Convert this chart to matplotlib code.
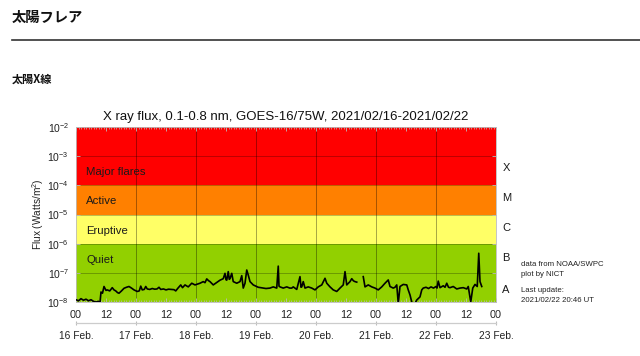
import numpy as np
import matplotlib
matplotlib.use('Agg')
import matplotlib.pyplot as plt
from matplotlib.ticker import FixedLocator, MultipleLocator, LogLocator, NullFormatter
from matplotlib.lines import Line2D

plt.rcParams['font.family'] = ['Liberation Sans', 'DejaVu Sans']
plt.rcParams['mathtext.fontset'] = 'custom'
plt.rcParams['mathtext.rm'] = 'Liberation Sans'
plt.rcParams['mathtext.it'] = 'Liberation Sans:italic'

# ---- data (hours since 2021-02-16 00:00 UT, flux W/m^2) ----
hours = [0.0, 1.0, 2.0, 3.0, 4.0, 5.0, 6.0, 7.0, 8.0, 9.0, 9.6, 10.0, 10.6, 11.2, 12.0, 12.5,
         13.5, 14.5, 15.2, 15.9, 16.6, 17.2, 18.2, 19.2, 20.2, 21.2, 22.2, 23.2, 24.5, 25.3,
         25.9, 26.5, 27.3, 27.9, 28.5, 29.5, 30.5, 31.5, 32.4, 33.2, 33.9, 35.0, 36.0, 37.0,
         38.2, 39.2, 39.9, 40.8, 41.9, 42.6, 43.6, 44.9, 46.3, 47.6, 48.6, 49.6, 50.9, 51.6,
         52.3, 53.0, 53.6, 54.9, 56.3, 57.6, 58.9, 59.6, 60.0, 60.3, 60.9, 61.3, 61.6, 62.3,
         62.9, 64.3, 65.6, 66.3, 66.9, 67.6, 68.3, 68.9, 69.6, 70.9, 72.9, 74.8, 76.0, 77.6,
         78.9, 80.3, 80.9, 81.2, 81.6, 82.9, 84.3, 85.5, 86.3, 86.9, 88.3, 89.6, 90.0, 90.3,
         90.9, 91.6, 92.9, 94.3, 95.6, 96.9, 98.3, 99.6, 100.3, 101.6, 102.9, 104.3, 105.6,
         106.9, 107.6, 108.3, 109.6, 110.3, 111.0, 111.6, 112.3, 113.5, 114.9, 115.6, 116.9,
         118.3, 119.6, 120.9, 122.3, 123.6, 124.9, 125.6, 126.9, 127.6, 128.3, 128.9, 129.6,
         130.9, 132.3, 132.9, 133.6, 134.3, 134.9, 135.6, 136.3, 137.6, 138.3, 138.9, 140.0,
         141.0, 142.0, 143.0, 144.0, 144.4, 144.9, 145.6, 146.9, 147.6, 148.3, 149.0, 149.6,
         150.9, 152.3, 153.6, 154.9, 156.3, 156.9, 157.9, 158.7, 159.6, 160.5, 161.1, 161.6,
         162.3]
flux = [1.2e-8, 1.1e-8, 1.3e-8, 1.15e-8, 1.25e-8, 1.1e-8, 1.2e-8, 1.05e-8, 1.0e-8, 1.05e-8,
        0.95e-8, 2.2e-8, 2.0e-8, 3.4e-8, 2.5e-8, 2.6e-8, 2.4e-8, 3.1e-8, 2.6e-8, 2.4e-8,
        2.1e-8, 2.0e-8, 2.4e-8, 2.95e-8, 3.2e-8, 3.4e-8, 3.0e-8, 2.6e-8, 2.3e-8, 2.4e-8,
        3.5e-8, 2.6e-8, 2.7e-8, 3.4e-8, 2.8e-8, 2.7e-8, 2.9e-8, 2.75e-8, 2.8e-8, 3.2e-8,
        2.7e-8, 2.8e-8, 2.6e-8, 2.75e-8, 2.7e-8, 2.65e-8, 2.4e-8, 3.0e-8, 3.85e-8, 3.1e-8,
        3.85e-8, 3.3e-8, 4.4e-8, 3.85e-8, 4.1e-8, 4.4e-8, 5.0e-8, 4.6e-8, 6.2e-8, 5.4e-8,
        5.0e-8, 3.85e-8, 4.7e-8, 5.6e-8, 6.3e-8, 9.6e-8, 5.8e-8, 5.6e-8, 1.1e-7, 6.0e-8,
        6.3e-8, 9.6e-8, 5.0e-8, 4.4e-8, 5.0e-8, 8.0e-8, 3.0e-8, 4.4e-8, 1.25e-7, 8.4e-8,
        5.0e-8, 3.85e-8, 3.2e-8, 3.0e-8, 2.9e-8, 3.0e-8, 3.3e-8, 3.0e-8, 1.7e-7, 3.5e-8,
        3.3e-8, 3.0e-8, 3.3e-8, 3.0e-8, 3.0e-8, 3.3e-8, 2.7e-8, 7.4e-8, 3.2e-8, 3.3e-8,
        5.0e-8, 3.0e-8, 3.3e-8, 3.0e-8, 2.6e-8, 3.3e-8, 3.85e-8, 6.5e-8, 4.4e-8, 3.3e-8,
        2.6e-8, 2.3e-8, 3.0e-8, 3.85e-8, 1.1e-7, 3.85e-8, 5.0e-8, 6.3e-8, 5.3e-8, 5.0e-8,
        4.8e-8, np.nan, 7.4e-8, 3.3e-8, 3.85e-8, 3.3e-8, 3.0e-8, 2.6e-8, 3.3e-8, 4.4e-8,
        5.7e-8, 3.4e-8, 3.0e-8, 3.2e-8, 3.85e-8, 0.9e-8, 3.4e-8, 4.0e-8, 3.85e-8, 2.6e-8,
        1.75e-8, 1.0e-8, 0.85e-8, 0.9e-8, 1.17e-8, 1.5e-8, 2.6e-8, 3.0e-8, 3.2e-8, 2.9e-8,
        3.3e-8, 3.0e-8, 3.4e-8, 3.0e-8, 5.2e-8, 3.1e-8, 3.6e-8, 3.2e-8, 4.4e-8, 3.2e-8,
        3.1e-8, 3.4e-8, 2.8e-8, 3.0e-8, 3.1e-8, 2.8e-8, 3.4e-8, 1.0e-8, 3.0e-8, 4.0e-8,
        3.4e-8, 4.7e-7, 5.0e-8, 3.4e-8]

band_edges = [1e-8, 1e-6, 1e-5, 1e-4, 1e-2]
band_colors = ['#92D000', '#FFFF66', '#FF8000', '#FF0000']
band_labels = ['Quiet', 'Eruptive', 'Active', 'Major flares']
band_label_y = [2.75e-7, 2.7e-6, 2.9e-5, 2.9e-4]
class_labels = ['A', 'B', 'C', 'M', 'X']
class_y = [2.6e-8, 3.3e-7, 3.5e-6, 3.7e-5, 3.9e-4]
hour_ticks = [0, 12, 24, 36, 48, 60, 72, 84, 96, 108, 120, 132, 144, 156, 168]
hour_labels = ['00', '12'] * 7 + ['00']
day_ticks = [0, 24, 48, 72, 96, 120, 144, 168]
day_labels = ['16 Feb.', '17 Feb.', '18 Feb.', '19 Feb.', '20 Feb.', '21 Feb.', '22 Feb.', '23 Feb.']
ytick_vals = [1e-8, 1e-7, 1e-6, 1e-5, 1e-4, 1e-3, 1e-2]
ytick_labels = ['10$^{-8}$', '10$^{-7}$', '10$^{-6}$', '10$^{-5}$', '10$^{-4}$', '10$^{-3}$', '10$^{-2}$']

W, H = 640, 356
fig = plt.figure(figsize=(6.4, 3.56), dpi=100)
ax = fig.add_axes([76 / W, 1 - 302 / H, 420 / W, 175 / H])

for i, c in enumerate(band_colors):
    ax.axhspan(band_edges[i], band_edges[i + 1], color=c, lw=0, zorder=0)

ax.plot(hours, flux, color='black', lw=1.2, zorder=3)

ax.set_yscale('log')
ax.set_ylim(1e-8, 1e-2)
ax.set_xlim(0, 168)

ax.yaxis.set_major_locator(FixedLocator(ytick_vals))
ax.set_yticklabels(ytick_labels, fontsize=7.5, color='#222222')
ax.yaxis.set_minor_locator(LogLocator(base=10, subs=np.arange(2, 10)))
ax.yaxis.set_minor_formatter(NullFormatter())

ax.xaxis.set_major_locator(FixedLocator(hour_ticks))
ax.set_xticklabels(hour_labels, fontsize=7.8, color='#222222')
ax.xaxis.set_minor_locator(MultipleLocator(1))

ax.tick_params(axis='both', which='both', direction='in', top=True, right=True, color='#bbbbbb')
ax.tick_params(axis='both', which='major', length=3, width=0.6)
ax.tick_params(axis='both', which='minor', length=1.5, width=0.5)
ax.tick_params(axis='x', which='major', pad=6)
ax.tick_params(axis='y', which='major', pad=5)

for x in day_ticks[1:-1]:
    ax.axvline(x, color='black', alpha=0.35, lw=0.7, zorder=1)
for y in ytick_vals[1:-1]:
    ax.axhline(y, color='black', alpha=0.3, lw=0.6, zorder=1)

for s in ax.spines.values():
    s.set_color('#bbbbbb')
    s.set_linewidth(0.6)

for lab, yv in zip(band_labels, band_label_y):
    ax.text(0.024, yv, lab, transform=ax.get_yaxis_transform(), fontsize=8.2,
            color='#1a1a1a', va='center', ha='left', zorder=4)

for lab, yv in zip(class_labels, class_y):
    ax.text(1.015, yv, lab, transform=ax.get_yaxis_transform(), fontsize=8,
            color='#1a1a1a', va='center', ha='left')

ax.set_ylabel('Flux (Watts/m$^2$)', fontsize=7.3, color='#222222')
ax.yaxis.set_label_coords(-0.072, 0.5)

sec = ax.secondary_xaxis(-0.122)
sec.set_xticks(day_ticks)
sec.set_xticklabels(day_labels, fontsize=7.4, color='#222222')
sec.tick_params(direction='inout', length=3, color='#bbbbbb', pad=4)
sec.spines['bottom'].set_color('#cccccc')
sec.spines['bottom'].set_linewidth(0.9)

fig.text(286 / W, 1 - 117 / H, 'X ray flux, 0.1-0.8 nm, GOES-16/75W, 2021/02/16-2021/02/22',
         fontsize=9.5, ha='center', va='center', color='#111111')

fig.text(521 / W, 1 - 264 / H, 'data from NOAA/SWPC', fontsize=5.6, va='center', ha='left', color='#222222')
fig.text(521 / W, 1 - 275 / H, 'plot by NICT', fontsize=5.6, va='center', ha='left', color='#222222')
fig.text(521 / W, 1 - 290 / H, 'Last update:', fontsize=5.6, va='center', ha='left', color='#222222')
fig.text(521 / W, 1 - 300.5 / H, '2021/02/22 20:46 UT', fontsize=5.6, va='center', ha='left', color='#222222')

cjk = ['Noto Sans CJK JP', 'DejaVu Sans']
fig.text(12 / W, 1 - 17.5 / H, '太陽フレア', fontsize=10.3, fontweight='bold', family=cjk,
         va='center', ha='left', color='#111111')
fig.add_artist(Line2D([12 / W, 1.0], [1 - 40 / H, 1 - 40 / H], color='#333333', lw=1.2,
                      transform=fig.transFigure))
fig.text(12 / W, 1 - 79 / H, '太陽X線', fontsize=8.0, fontweight='bold', family=cjk,
         va='center', ha='left', color='#111111')

fig.savefig('out.png', dpi=100)
